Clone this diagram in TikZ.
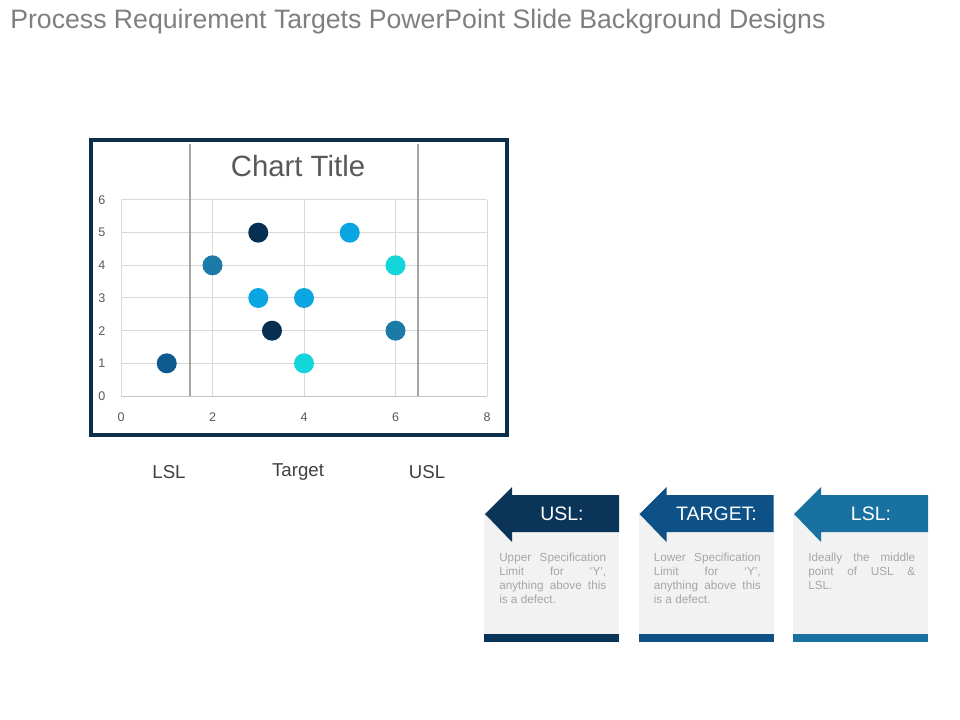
\documentclass[tikz,border=0pt]{standalone}
\usepackage{fontspec}
\setmainfont{Liberation Sans}
\definecolor{frameblue}{HTML}{0B2F4A}
\definecolor{gridgray}{HTML}{D9D9D9}
\definecolor{specgray}{HTML}{A6A6A6}
\definecolor{ticktext}{HTML}{595959}
\definecolor{titlegray}{HTML}{7F7F7F}
\definecolor{labeltext}{HTML}{404040}
\definecolor{dotA}{HTML}{062F52}
\definecolor{dotB}{HTML}{0D5A8E}
\definecolor{dotC}{HTML}{1B7AA8}
\definecolor{dotD}{HTML}{0BA5E2}
\definecolor{dotE}{HTML}{12D6DA}
\definecolor{cardA}{HTML}{0B3558}
\definecolor{cardB}{HTML}{0D5186}
\definecolor{cardC}{HTML}{1871A0}
\definecolor{cardgray}{HTML}{F2F2F2}
\definecolor{bodytext}{HTML}{A6A6A6}
\tikzset{
  ticklabel/.style={font=\fontsize{9.4pt}{11pt}\selectfont, text=ticktext, inner sep=0pt},
  axislabel/.style={font=\fontsize{14pt}{16pt}\selectfont, text=labeltext, inner sep=0pt},
  headtext/.style={font=\fontsize{14.6pt}{17pt}\selectfont, text=white, inner sep=0pt},
  bodybox/.style={font=\fontsize{8.8pt}{10.5pt}\selectfont, text=bodytext, text width=80.25pt, inner sep=0pt, anchor=north west,
    align=justify,
    execute at begin node={\hyphenpenalty=10000\exhyphenpenalty=10000\tolerance=9999\emergencystretch=20pt\hbadness=10000}},
  dot/.style={circle, inner sep=0pt, minimum size=15pt},
}
\begin{document}
\begin{tikzpicture}[x=0.75pt, y=-0.75pt]
\useasboundingbox (0,0) rectangle (960,720);
\fill[white] (0,0) rectangle (960,720);
% page title
\node[anchor=west, inner sep=0pt, text=titlegray, font=\fontsize{20pt}{23pt}\selectfont] (pagetitle) at (10,22) {Process Requirement Targets PowerPoint Slide Background Designs};
% chart frame
\draw[frameblue, line width=2.4pt, fill=white] (91,140) rectangle (507,435);
\node[inner sep=0pt, text=ticktext, font=\fontsize{22pt}{26pt}\selectfont] (charttitle) at (298,166) {Chart Title};
% plot
\begin{scope}[shift={(90.75pt,-297pt)}, x=34.3125pt, y=24.5pt]
  \foreach \v in {1,...,6} \draw[gridgray, line width=0.75pt] (0,\v) -- (8,\v);
  \foreach \v in {2,4,6,8} \draw[gridgray, line width=0.75pt] (\v,0) -- (\v,6);
  \draw[gridgray!80!gray, line width=0.75pt] (0,0) -- (8,0);
  \draw[gridgray, line width=0.75pt] (0,0) -- (0,6);
  \foreach \v in {0,...,6} \node[ticklabel] (yt\v) at (-0.42,\v) {\v};
  \foreach \v in {0,2,4,6,8} \node[ticklabel] (xt\v) at (\v,-0.64) {\v};
  \draw[specgray, line width=1.5pt] (1.5,0) -- (1.5,7.7);
  \draw[specgray, line width=1.5pt] (6.5,0) -- (6.5,7.7);
  \node[dot, fill=dotB] (p1) at (1,1) {};
  \node[dot, fill=dotC] (p2) at (2,4) {};
  \node[dot, fill=dotA] (p3) at (3,5) {};
  \node[dot, fill=dotD] (p4) at (3,3) {};
  \node[dot, fill=dotA] (p5) at (3.3,2) {};
  \node[dot, fill=dotD] (p6) at (4,3) {};
  \node[dot, fill=dotE] (p7) at (4,1) {};
  \node[dot, fill=dotD] (p8) at (5,5) {};
  \node[dot, fill=dotE] (p9) at (6,4) {};
  \node[dot, fill=dotC] (p10) at (6,2) {};
\end{scope}
% axis labels
\node[axislabel] (lsl) at (169,472) {LSL};
\node[axislabel] (target) at (298,472) {Target};
\node[axislabel] (usl) at (427,472) {USL};
% cards
\foreach \dx/\col/\name/\lab in {0/cardA/cardone/USL:, 154.5/cardB/cardtwo/TARGET:, 309/cardC/cardthree/LSL:}{
  \begin{scope}[xshift=\dx*0.75pt]
    \fill[cardgray] (484,512) rectangle (619,641);
    \fill[\col] (484,634) rectangle (619,642);
    \fill[\col] (512,487) -- (485,514) -- (512,542) -- (512,532) -- (619,532) -- (619,495) -- (512,495) -- cycle;
    \node[headtext] (\name head) at (562,514) {\lab};
  \end{scope}
}
\node[bodybox] (cardonebody) at (499,553) {Upper Specification\linebreak Limit for ‘Y’,\linebreak anything above this\linebreak is a defect.};
\node[bodybox] (cardtwobody) at (653.5,553) {Lower Specification\linebreak Limit for ‘Y’,\linebreak anything above this\linebreak is a defect.};
\node[bodybox] (cardthreebody) at (808,553) {Ideally the middle\linebreak point of USL \&\linebreak LSL.};
\end{tikzpicture}
\end{document}
